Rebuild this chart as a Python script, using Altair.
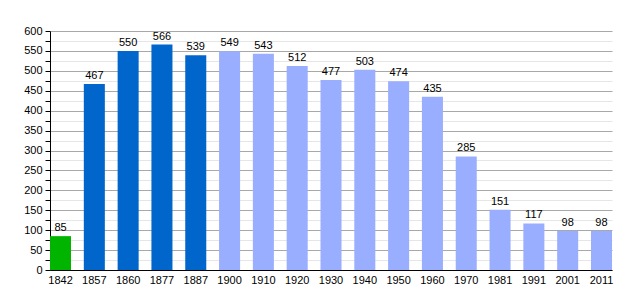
import altair as alt
import pandas as pd

years = ["1842", "1857", "1860", "1877", "1887", "1900", "1910", "1920", "1930",
         "1940", "1950", "1960", "1970", "1981", "1991", "2001", "2011"]
population = [85, 467, 550, 566, 539, 549, 543, 512, 477, 503, 474, 435, 285, 151, 117, 98, 98]
groups = ["a", "b", "b", "b", "b", "c", "c", "c", "c", "c", "c", "c", "c", "c", "c", "c", "c"]
group_colors = {"a": "#00b400", "b": "#0066cc", "c": "#9aaeff"}
tick_values = list(range(0, 601, 25))

df = pd.DataFrame({"year": years, "pop": population, "group": groups})

x = alt.X("year:N", sort=years, title=None,
          scale=alt.Scale(paddingInner=0.378, paddingOuter=0),
          axis=alt.Axis(labelAngle=0, ticks=False, domainColor="#000", labelColor="#000",
                        labelFontSize=11, labelPadding=4, grid=False))
y = alt.Y("pop:Q", title=None,
          scale=alt.Scale(domain=[0, 600], nice=False),
          axis=alt.Axis(values=tick_values, labelOverlap=False,
                        labelExpr="datum.value % 50 === 0 ? datum.label : ''",
                        gridColor={"condition": {"test": "datum.value % 50 === 0", "value": "#a8a8a8"}, "value": "#e6e6e6"},
                        domainColor="#000", tickColor="#000", tickSize=5,
                        labelColor="#000", labelFontSize=11, labelPadding=3))

bars = alt.Chart(df).mark_bar().encode(
    x=x, y=y,
    color=alt.Color("group:N", scale=alt.Scale(domain=list(group_colors.keys()),
                                               range=list(group_colors.values())), legend=None),
)
text = alt.Chart(df).mark_text(dy=-8, fontSize=11, color="#000", font="Liberation Sans").encode(
    x=x, y=y, text="pop:Q")

chart = (bars + text).properties(
    width=562, height=239,
    autosize=alt.AutoSizeParams(type="none"),
    padding={"left": 50, "top": 31, "right": 28, "bottom": 30},
).configure_view(stroke=None).configure_axis(labelFont="Liberation Sans")

chart.save("out.html", embed_options={"renderer": "svg", "actions": False})
